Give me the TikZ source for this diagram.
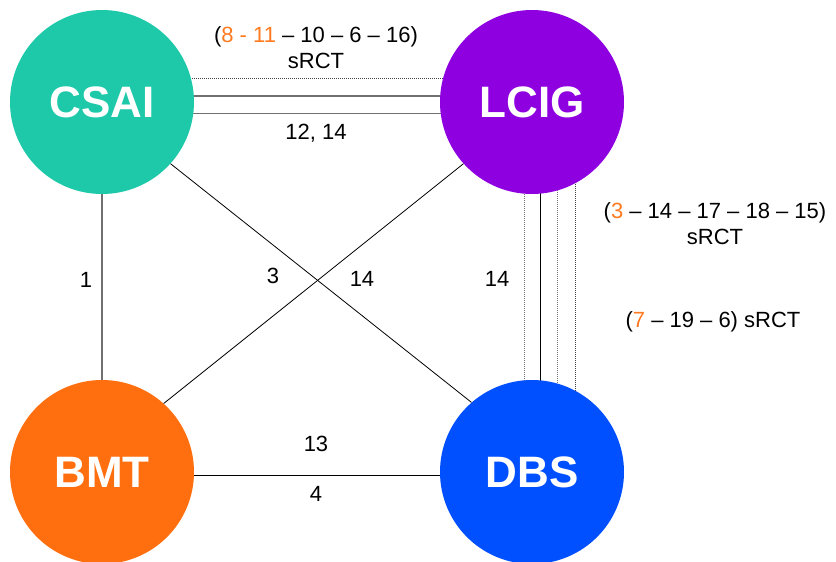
\documentclass[tikz,border=0pt]{standalone}
\usepackage{fontspec}
\setmainfont{Liberation Sans}
\usetikzlibrary{backgrounds}
\definecolor{csaicol}{HTML}{1DC9A9}
\definecolor{lcigcol}{HTML}{8E00E0}
\definecolor{bmtcol}{HTML}{FF6F0F}
\definecolor{dbscol}{HTML}{0050FF}
\definecolor{hl}{HTML}{FF7A1F}
\definecolor{linegrey}{HTML}{707070}
\begin{document}
\begin{tikzpicture}[x=1pt,y=-1pt,
  site/.style={circle,minimum size=184pt,inner sep=0pt,text=white,
    font=\fontsize{44}{44}\selectfont\bfseries},
  lbl/.style={font=\fontsize{22}{26}\selectfont,align=center,inner sep=0pt},
  link/.style={line width=0.8pt,black},
  greylink/.style={line width=1.3pt,linegrey},
  dotlink/.style={line width=1pt,densely dotted,black!55}]
\useasboundingbox (0,0) rectangle (836,562);

% the four sites
\node[site,fill=csaicol] (csai) at (102,102) {CSAI};
\node[site,fill=lcigcol] (lcig) at (532,102) {LCIG};
\node[site,fill=bmtcol]  (bmt)  at (102,472) {BMT};
\node[site,fill=dbscol]  (dbs)  at (532,472) {DBS};

% connections, kept behind the circles
\begin{scope}[on background layer]
  % CSAI -- LCIG
  \draw[dotlink,black!75] ([yshift=24pt]csai.center) -- ([yshift=24pt]lcig.center);
  \draw[greylink] ([yshift=6pt]csai.center) -- ([yshift=6pt]lcig.center);
  \draw[greylink] ([yshift=-11.7pt]csai.center) -- ([yshift=-11.7pt]lcig.center);
  % LCIG -- DBS
  \draw[dotlink] ([xshift=-8pt]lcig.center) -- ([xshift=-8pt]dbs.center);
  \draw[link] ([xshift=8.7pt]lcig.center) -- ([xshift=8.7pt]dbs.center);
  \draw[dotlink] ([xshift=25pt]lcig.center) -- ([xshift=25pt]dbs.center);
  \draw[dotlink,black!75] ([xshift=43pt]lcig.center) -- ([xshift=43pt]dbs.center);
  % BMT -- DBS
  \draw[link] ([yshift=-3pt]bmt.center) -- ([yshift=-3pt]dbs.center);
\end{scope}
% CSAI -- BMT
\draw[greylink,line width=1.1pt] (csai.south) -- (bmt.north);
% diagonals
\draw[link] (csai.-42) -- (dbs.131);
\draw[link] (lcig.-138) -- (bmt.48);

% labels
\node[lbl] (topref) at (316,47.5) {(\textcolor{hl}{8 - 11} – 10 – 6 – 16)\\sRCT};
\node[lbl] (topnum) at (316,133) {12, 14};
\node[lbl] (leftnum) at (86,280) {1};
\node[lbl] (diaga) at (273,276) {3};
\node[lbl] (diagb) at (362,279) {14};
\node[lbl] (rightnum) at (497,279) {14};
\node[lbl] (rightrefa) at (715,223.5) {(\textcolor{hl}{3} – 14 – 17 – 18 – 15)\\sRCT};
\node[lbl] (rightrefb) at (713,322) {(\textcolor{hl}{7} – 19 – 6) sRCT};
\node[lbl] (botnuma) at (316,444) {13};
\node[lbl] (botnumb) at (316,494) {4};
\end{tikzpicture}
\end{document}
